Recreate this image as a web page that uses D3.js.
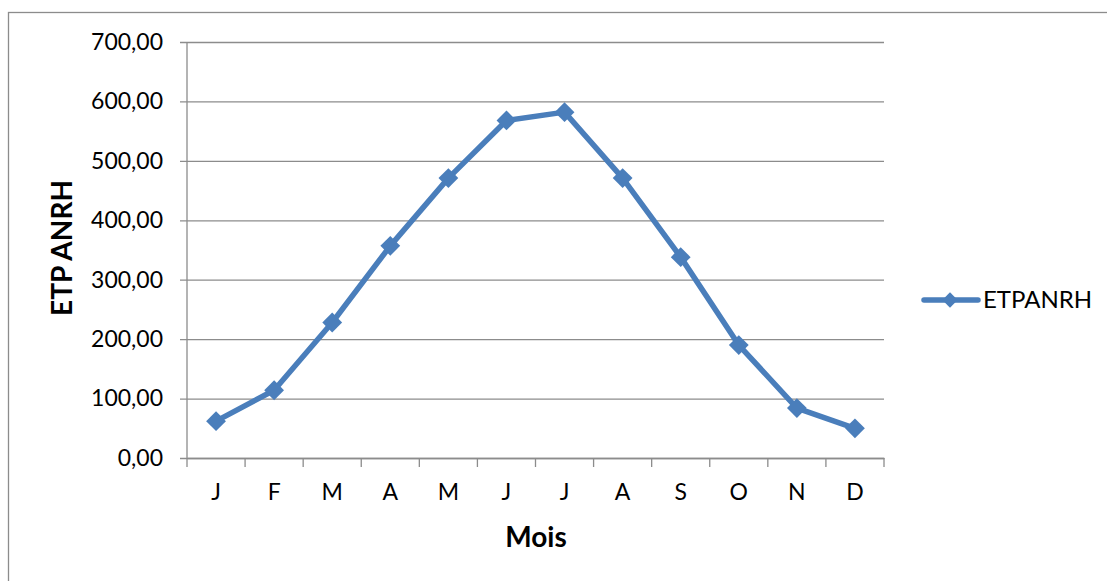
<!DOCTYPE html>
<html>
<head>
<meta charset="utf-8">
<script src="https://cdn.jsdelivr.net/npm/d3@7"></script>
<style>
  body { margin: 0; background: #fff; }
  svg text { font-family: Lato, "Open Sans", sans-serif; fill: #000; }
</style>
</head>
<body>
<svg id="chart" width="1107" height="581"></svg>
<script>
// ETP ANRH par mois
var months = ["J", "F", "M", "A", "M", "J", "J", "A", "S", "O", "N", "D"];
var etpValues = [62, 114, 228, 357, 471, 568, 582, 471, 338, 190, 84, 50];
var yTicks = [0, 100, 200, 300, 400, 500, 600, 700];
var seriesName = "ETPANRH";

var svg = d3.select("#chart");
// plot area (not "top": that name is taken by window.top)
var plotL = 187, plotR = 884, plotT = 42, plotB = 458;
var blue = "#4a7ebb", grid = "#8c8c8c";

// outer frame, right and bottom edges fall outside the picture
svg.append("rect").attr("x", 8.5).attr("y", 12.5).attr("width", 1110).attr("height", 600)
  .attr("fill", "none").attr("stroke", grid).attr("stroke-width", 1.3);

var x = d3.scaleBand().domain(d3.range(months.length)).range([plotL, plotR]);
var y = d3.scaleLinear().domain([0, 700]).range([plotB, plotT]);

// gridlines + y axis
var yAxis = d3.axisLeft(y).tickValues(yTicks).tickSize(-(plotR - plotL)).tickSizeOuter(0)
  .tickPadding(24)
  .tickFormat(function (d) { return d3.format(".2f")(d).replace(".", ","); });
var gy = svg.append("g").attr("transform", "translate(" + plotL + ",0)").call(yAxis);
gy.select(".domain").remove();
gy.selectAll(".tick line").attr("stroke", grid).attr("stroke-width", 1.3).attr("x1", -7);
gy.selectAll(".tick text").style("font-size", "23px");
svg.append("line").attr("x1", plotL).attr("x2", plotL).attr("y1", plotT).attr("y2", plotB)
  .attr("stroke", grid).attr("stroke-width", 1.3);

// x axis
var gx = svg.append("g").attr("transform", "translate(0," + plotB + ")")
  .call(d3.axisBottom(x).tickSize(0).tickPadding(26).tickFormat(function (i) { return months[i]; }));
gx.select(".domain").attr("stroke", grid).attr("stroke-width", 1.3);
gx.selectAll(".tick text").style("font-size", "23px");
var edges = d3.range(months.length + 1).map(function (i) { return plotL + i * x.bandwidth(); });
gx.selectAll(".edge").data(edges).enter().append("line")
  .attr("x1", function (d) { return d; }).attr("x2", function (d) { return d; })
  .attr("y1", 0).attr("y2", 9).attr("stroke", grid).attr("stroke-width", 1.3);

// series line
var line = d3.line()
  .x(function (d, i) { return x(i) + x.bandwidth() / 2; })
  .y(function (d) { return y(d); });
svg.append("path").datum(etpValues).attr("d", line)
  .attr("fill", "none").attr("stroke", blue).attr("stroke-width", 5.5).attr("stroke-linejoin", "round");

var diamond = d3.symbol().type(d3.symbolDiamond2).size(250);
svg.selectAll(".pt").data(etpValues).enter().append("path")
  .attr("d", diamond)
  .attr("transform", function (d, i) {
    return "translate(" + (x(i) + x.bandwidth() / 2) + "," + y(d) + ")";
  })
  .attr("fill", blue);

// axis titles
svg.append("text").attr("transform", "translate(72,248) rotate(-90)")
  .attr("text-anchor", "middle").style("font-size", "28px").style("font-weight", "bold")
  .text("ETP ANRH");
svg.append("text").attr("x", 536).attr("y", 547)
  .attr("text-anchor", "middle").style("font-size", "28px").style("font-weight", "bold")
  .text("Mois");

// legend
svg.append("line").attr("x1", 924).attr("x2", 978).attr("y1", 300).attr("y2", 300)
  .attr("stroke", blue).attr("stroke-width", 5.5).attr("stroke-linecap", "round");
svg.append("path").attr("d", d3.symbol().type(d3.symbolDiamond2).size(150))
  .attr("transform", "translate(950,300)").attr("fill", blue);
svg.append("text").attr("x", 983).attr("y", 308).style("font-size", "24px").text(seriesName);
</script>
</body>
</html>
